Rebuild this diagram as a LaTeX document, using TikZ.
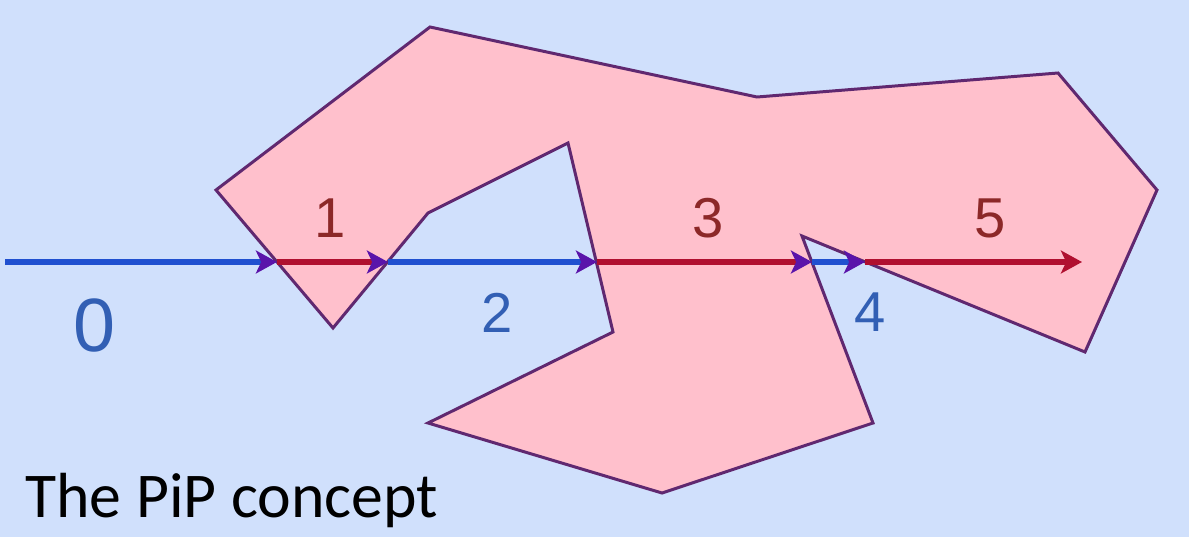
\documentclass[tikz,border=0pt]{standalone}
\usepackage{fontspec}
\setmainfont{Liberation Sans}
\newfontfamily\captionfont{Carlito}
\usetikzlibrary{arrows.meta}

\definecolor{bgblue}{RGB}{208,224,252}
\definecolor{polyfill}{RGB}{255,192,204}
\definecolor{polyedge}{RGB}{96,40,112}
\definecolor{outblue}{RGB}{32,80,208}
\definecolor{inred}{RGB}{176,16,48}
\definecolor{tipviolet}{RGB}{90,20,170}
\definecolor{labblue}{RGB}{50,95,180}
\definecolor{labred}{RGB}{140,40,40}

\begin{document}
\begin{tikzpicture}[x=0.02cm, y=-0.02cm,
        outseg/.style={outblue, line width=3.4pt, -{Stealth[length=12pt, width=13pt, inset=3pt, color=tipviolet]}},
        inseg/.style={inred, line width=3.4pt, -{Stealth[length=12pt, width=13pt, inset=3pt, color=tipviolet]}},
        lastseg/.style={inred, line width=3.4pt, -{Stealth[length=12pt, width=13pt, inset=3pt]}},
        outlab/.style={labblue, inner sep=0pt, font=\fontsize{32}{36}\selectfont},
        inlab/.style={labred, inner sep=0pt, font=\fontsize{32}{36}\selectfont}
    ]
        \fill[bgblue] (0,0) rectangle (1189,537);
        \useasboundingbox (0,0) rectangle (1189,537);

        % the polygon
        \filldraw[fill=polyfill, draw=polyedge, line width=1.7pt, line join=miter]
            (430,27) -- (757,97) -- (1058,73) -- (1157,190) -- (1085,352)
            -- (802,236) -- (873,423) -- (662,493) -- (428,423) -- (613,332)
            -- (568,143) -- (428,213) -- (333,328) -- (216,190) -- cycle;

        % crossings on the ray
        \coordinate (p0) at (5,262);
        \coordinate (p1) at (277,262);
        \coordinate (p2) at (388,262);
        \coordinate (p3) at (597,262);
        \coordinate (p4) at (812,262);
        \coordinate (p5) at (865,262);
        \coordinate (p6) at (1082,262);

        \draw[outseg] (p0) -- (p1);
        \draw[inseg] (p1) -- (p2);
        \draw[outseg] (p2) -- (p3);
        \draw[inseg] (p3) -- (p4);
        \draw[outseg] (p4) -- (p5);
        \draw[lastseg] (p5) -- (p6);

        \node[outlab, font=\fontsize{43}{48}\selectfont] (n0) at (95,325) {0};
        \node[inlab] (n1) at (330,218) {1};
        \node[outlab] (n2) at (497,313) {2};
        \node[inlab] (n3) at (708,218) {3};
        \node[outlab] (n4) at (870,312) {4};
        \node[inlab] (n5) at (990,218) {5};

        \node[anchor=base west, inner sep=0pt, font=\captionfont\fontsize{36.3}{42}\selectfont] (title) at (25,517) {The PiP concept};
    \end{tikzpicture}
\end{document}
